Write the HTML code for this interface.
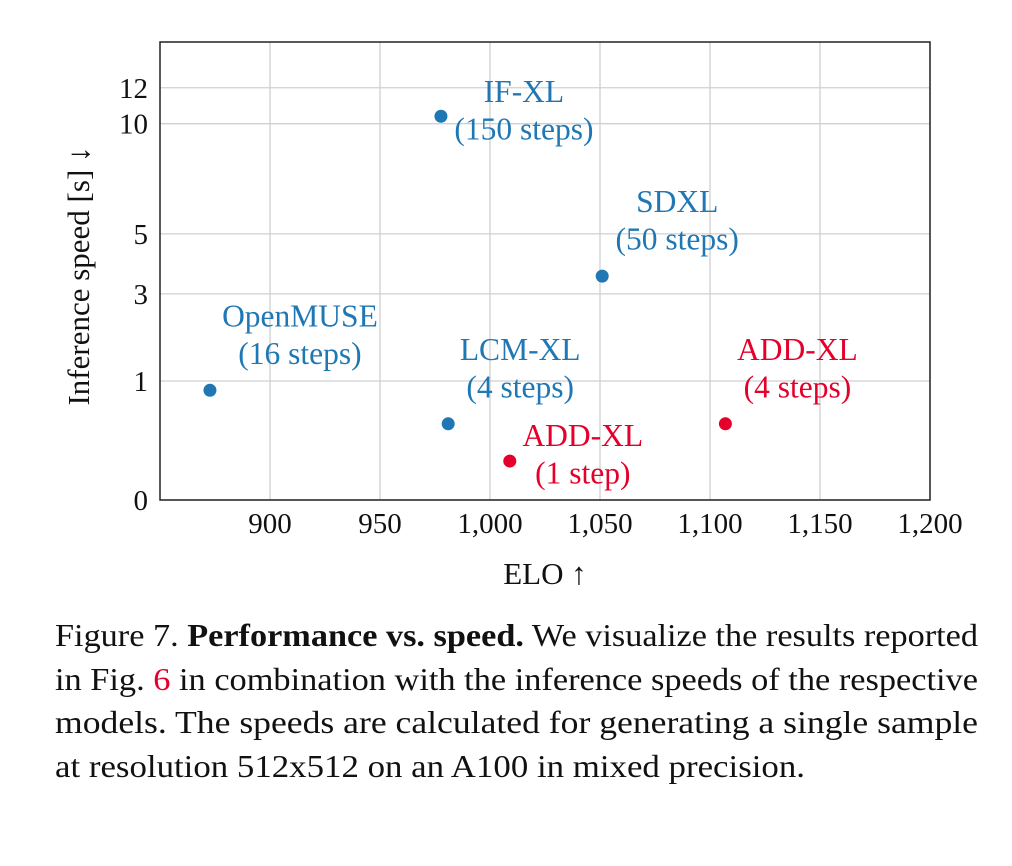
<!DOCTYPE html>
<html><head><meta charset="utf-8"><style>
body{margin:0;background:#fff;width:1012px;height:866px;overflow:hidden;font-family:"Liberation Serif",serif;}
#cap{position:absolute;left:55px;top:614px;width:923px;font-size:31.5px;line-height:43.5px;color:#111;}
#cap .l{white-space:nowrap;transform-origin:0 50%;width:max-content;}
</style></head><body>
<svg id="chart" width="1012" height="600" style="position:absolute;left:0;top:0" font-family="Liberation Serif, serif"></svg>
<div id="cap">
<div class="l" data-w="923">Figure 7. <b>Performance vs. speed.</b> We visualize the results reported</div>
<div class="l" data-w="923">in Fig. <span style="color:#e4002b">6</span> in combination with the inference speeds of the respective</div>
<div class="l" data-w="923">models. The speeds are calculated for generating a single sample</div>
<div class="l" data-w="750">at resolution 512x512 on an A100 in mixed precision.</div>
</div>
<script>
document.querySelectorAll('#cap .l').forEach(el=>{const w=el.getBoundingClientRect().width;el.style.transform='scaleX('+(+el.dataset.w/w)+')';});
const names=["OpenMUSE","IF-XL","SDXL","LCM-XL","ADD-XL","ADD-XL"];
const steps=["(16 steps)","(150 steps)","(50 steps)","(4 steps)","(1 step)","(4 steps)"];
const elo=[872.7,977.7,1051,981,1009,1107];
const speed=[0.85,10.4,3.54,0.41,0.107,0.41];
const isAdd=[0,0,0,0,1,1];
const xTicks=[900,950,1000,1050,1100,1150,1200];
const xTickLabels=["900","950","1,000","1,050","1,100","1,150","1,200"];
const yTicks=[0,1,3,5,10,12];
const L=160,R=930,T=42,B=500;
const sx=v=>L+(v-850)*(R-L)/350;
const sy=v=>B-Math.sqrt(v)*119;
const NS="http://www.w3.org/2000/svg";
const svg=document.getElementById('chart');
function mk(t,a,p){const e=document.createElementNS(NS,t);for(const k in a)e.setAttribute(k,a[k]);(p||svg).appendChild(e);return e;}
const labOff=[[90,-64],[83,-14],[75,-64],[72,-64],[73,-15],[72,-64]];
xTicks.forEach((v,i)=>{
 const g=mk('line',{x1:sx(v),x2:sx(v),y1:T,y2:B,stroke:'#d0d0d0','stroke-width':1.3});
 
 const t=mk('text',{x:sx(v),y:533,'text-anchor':'middle','font-size':29,fill:'#111'});t.textContent=xTickLabels[i];
 
});
yTicks.forEach(v=>{
 const g=mk('line',{x1:L,x2:R,y1:sy(v),y2:sy(v),stroke:'#d0d0d0','stroke-width':1.3});
 
 const t=mk('text',{x:148,y:sy(v)+10,'text-anchor':'end','font-size':29,fill:'#111'});t.textContent=v;
 
});
const fr=mk('rect',{x:L,y:T,width:R-L,height:B-T,fill:'none',stroke:'#222','stroke-width':1.5});

elo.forEach((v,i)=>{
 const c=isAdd[i]?'#e4002b':'#1f77b4';
 const x=sx(v),y=sy(speed[i]);
 const d=mk('circle',{cx:x,cy:y,r:6.5,fill:c});
 
 const t=mk('text',{x:x+labOff[i][0],y:y+labOff[i][1],'text-anchor':'middle','font-size':31.5,fill:c});
 
 const a=mk('tspan',{x:x+labOff[i][0]},t);a.textContent=names[i];
 const b=mk('tspan',{x:x+labOff[i][0],dy:37.5},t);b.textContent=steps[i];
});
const xl=mk('text',{x:545,y:584,'text-anchor':'middle','font-size':31,fill:'#111'});xl.textContent='ELO ↑';

const yl=mk('text',{x:0,y:0,'text-anchor':'middle','font-size':31,fill:'#111',transform:'translate(89,276) rotate(-90)'});yl.textContent='Inference speed [s] ↓';

</script>
</body></html>
